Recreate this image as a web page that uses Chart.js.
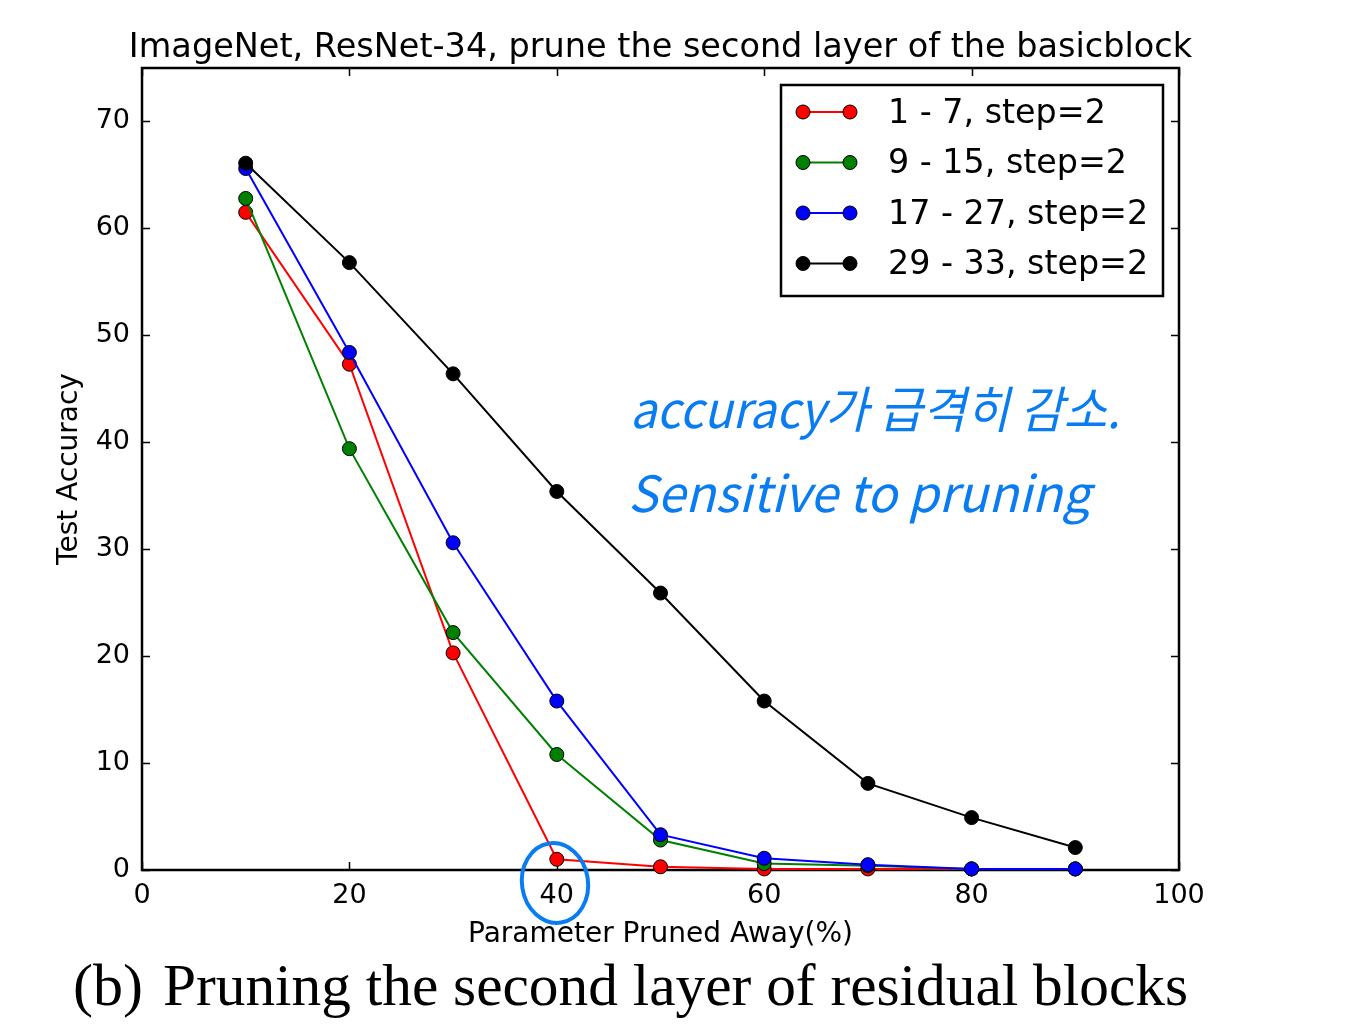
<!DOCTYPE html>
<html lang="en">
<head>
<meta charset="UTF-8">
<title>ImageNet ResNet-34 pruning</title>
<script src="https://cdn.jsdelivr.net/npm/chart.js"></script>
<style>
    body {
        margin: 0;
        background: #fff;
    }
    canvas {
        display: block;
    }
</style>
</head>
<body>
<canvas id="pruneChart" width="1348" height="1027"></canvas>
<script>
    // percent of parameters pruned away
    var pruned = [10, 20, 30, 40, 50, 60, 70, 80, 90];

    // test accuracy per group of pruned layers
    var layers1to7 = [61.5, 47.3, 20.3, 1.0, 0.3, 0.1, 0.1, 0.1, 0.1];
    var layers9to15 = [62.8, 39.4, 22.2, 10.8, 2.8, 0.6, 0.4, 0.1, 0.1];
    var layers17to27 = [65.6, 48.4, 30.6, 15.8, 3.3, 1.1, 0.5, 0.1, 0.1];
    var layers29to33 = [66.1, 56.8, 46.4, 35.4, 25.9, 15.8, 8.1, 4.9, 2.1];

    var seriesNames = ['1 - 7, step=2', '9 - 15, step=2', '17 - 27, step=2', '29 - 33, step=2'];
    var seriesColors = ['#ff0000', '#008000', '#0000ff', '#000000'];

    var xTicks = [0, 20, 40, 60, 80, 100];
    var yTicks = [0, 10, 20, 30, 40, 50, 60, 70];

    var titleText = 'ImageNet, ResNet-34, prune the second layer of the basicblock';
    var captionLabel = '(b)';
    var captionText = 'Pruning the second layer of residual blocks';
    var noteLine1 = 'accuracy가 급격히 감소.';
    var noteLine2 = 'Sensitive to pruning';

    var ink = '#0a7cf2';

    function toPoints(values) {
        return values.map(function (v, i) { return { x: pruned[i], y: v }; });
    }

    var allSeries = [layers1to7, layers9to15, layers17to27, layers29to33];
    var datasets = allSeries.map(function (values, i) {
        return {
            label: seriesNames[i],
            data: toPoints(values),
            borderColor: seriesColors[i],
            backgroundColor: seriesColors[i],
            borderWidth: 2,
            pointRadius: 7,
            pointHoverRadius: 7,
            pointBorderColor: '#000',
            pointBorderWidth: 1,
            tension: 0,
            clip: false,
            order: 4 - i // later series drawn on top, like matplotlib
        };
    });

    // frame, inward ticks, title, legend box and the hand-written notes
    var decor = {
        id: 'decor',
        beforeDatasetsDraw: function (chart) {
            var ctx = chart.ctx;
            var a = chart.chartArea;
            var xs = chart.scales.x, ys = chart.scales.y;
            ctx.save();
            ctx.strokeStyle = '#000';
            ctx.lineWidth = 1.5;
            ctx.beginPath();
            xTicks.forEach(function (v) {
                var px = Math.round(xs.getPixelForValue(v)) + 0.5;
                ctx.moveTo(px, a.bottom); ctx.lineTo(px, a.bottom - 8);
                ctx.moveTo(px, a.top); ctx.lineTo(px, a.top + 8);
            });
            yTicks.forEach(function (v) {
                var py = Math.round(ys.getPixelForValue(v)) + 0.5;
                ctx.moveTo(a.left, py); ctx.lineTo(a.left + 8, py);
                ctx.moveTo(a.right, py); ctx.lineTo(a.right - 8, py);
            });
            ctx.stroke();
            ctx.lineWidth = 2.5;
            ctx.strokeRect(a.left, a.top, a.right - a.left, a.bottom - a.top);
            ctx.restore();
        },
        afterDraw: function (chart) {
            var ctx = chart.ctx;
            var a = chart.chartArea;
            ctx.save();

            // title
            ctx.fillStyle = '#000';
            ctx.font = '33.5px "DejaVu Sans"';
            ctx.textAlign = 'center';
            ctx.textBaseline = 'alphabetic';
            ctx.fillText(titleText, (a.left + a.right) / 2, 57);

            // legend
            var bx = 781, by = 85, bw = 382, bh = 211;
            ctx.fillStyle = '#fff';
            ctx.fillRect(bx, by, bw, bh);
            ctx.strokeStyle = '#000';
            ctx.lineWidth = 2.5;
            ctx.strokeRect(bx, by, bw, bh);
            ctx.font = '33.3px "DejaVu Sans"';
            ctx.textAlign = 'left';
            ctx.textBaseline = 'middle';
            seriesNames.forEach(function (name, i) {
                var y = 112 + i * 50.5;
                ctx.strokeStyle = seriesColors[i];
                ctx.lineWidth = 2;
                ctx.beginPath();
                ctx.moveTo(803, y); ctx.lineTo(850, y);
                ctx.stroke();
                [803, 850].forEach(function (cx) {
                    ctx.beginPath();
                    ctx.arc(cx, y, 7, 0, Math.PI * 2);
                    ctx.fillStyle = seriesColors[i];
                    ctx.fill();
                    ctx.strokeStyle = '#000';
                    ctx.lineWidth = 1;
                    ctx.stroke();
                });
                ctx.fillStyle = '#000';
                ctx.fillText(name, 888, y + 2);
            });

            // hand-written notes
            ctx.fillStyle = ink;
            ctx.textBaseline = 'alphabetic';
            ctx.font = 'italic 50px "Noto Sans CJK KR"';
            ctx.fillText(noteLine1, 630, 428, 490);
            ctx.fillText(noteLine2, 628, 512, 462);

            // circle round the 40 tick label
            ctx.strokeStyle = ink;
            ctx.lineWidth = 4;
            ctx.beginPath();
            ctx.ellipse(555, 883, 33, 40, -0.15, 0, Math.PI * 2);
            ctx.stroke();

            // caption
            ctx.fillStyle = '#000';
            ctx.font = '60px "Liberation Serif"';
            ctx.fillText(captionLabel, 73, 1005);
            ctx.fillText(captionText, 163, 1005, 1025);
            ctx.restore();
        }
    };

    var ctx = document.getElementById('pruneChart').getContext('2d');
    var chart = new Chart(ctx, {
        type: 'line',
        data: { datasets: datasets },
        plugins: [decor],
        options: {
            responsive: false,
            animation: false,
            layout: { padding: { left: 0, right: 169, top: 68, bottom: 0 } },
            plugins: {
                legend: { display: false },
                title: { display: false },
                tooltip: { enabled: false }
            },
            scales: {
                x: {
                    type: 'linear',
                    min: 0,
                    max: 100,
                    afterBuildTicks: function (s) { s.ticks = xTicks.map(function (v) { return { value: v }; }); },
                    afterFit: function (s) { s.height = 157; },
                    grid: { display: false },
                    border: { display: false },
                    ticks: {
                        color: '#000',
                        font: { family: 'DejaVu Sans', size: 27 },
                        padding: 2,
                        maxRotation: 0
                    },
                    title: {
                        display: true,
                        text: 'Parameter Pruned Away(%)',
                        color: '#000',
                        font: { family: 'DejaVu Sans', size: 28 },
                        padding: { top: 0, bottom: 75 }
                    }
                },
                y: {
                    min: 0,
                    max: 75,
                    afterBuildTicks: function (s) { s.ticks = yTicks.map(function (v) { return { value: v }; }); },
                    afterFit: function (s) { s.width = 142; },
                    grid: { display: false },
                    border: { display: false },
                    ticks: {
                        color: '#000',
                        font: { family: 'DejaVu Sans', size: 27 },
                        padding: 4
                    },
                    title: {
                        display: true,
                        text: 'Test Accuracy',
                        color: '#000',
                        font: { family: 'DejaVu Sans', size: 28 },
                        padding: { top: 53, bottom: 0 }
                    }
                }
            }
        }
    });
</script>
</body>
</html>
